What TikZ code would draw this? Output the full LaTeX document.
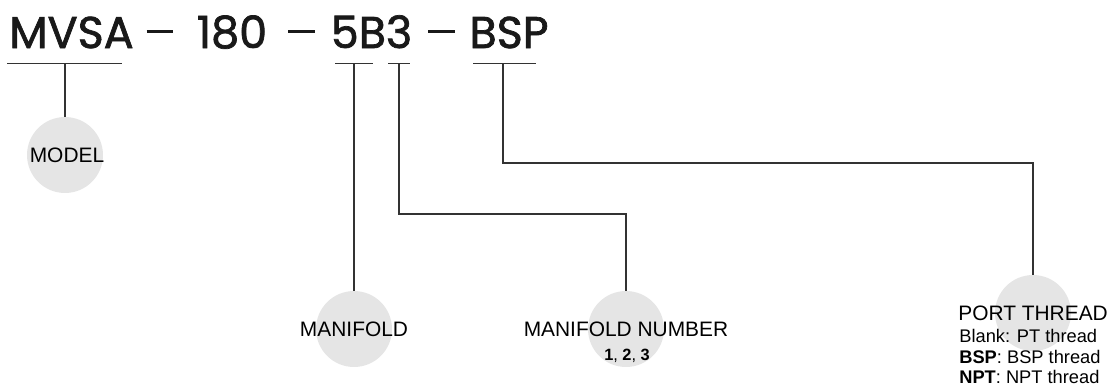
\documentclass[tikz,border=0pt]{standalone}
\usepackage{fontspec}
\setmainfont{Liberation Sans}
\newfontfamily\codefont[FakeBold=1.6]{Poppins}
\definecolor{circgray}{HTML}{E5E5E5}
\definecolor{linegray}{HTML}{333333}
\tikzset{
  badge/.style={circle,fill=circgray,minimum size=1.52cm,inner sep=0pt},
  part/.style={anchor=base,inner sep=0pt,text=black!90,font=\codefont\fontsize{25.3}{30}\selectfont},
  lbl/.style={inner sep=0pt,font=\fontsize{11.9}{14}\selectfont},
  sub/.style={inner sep=0pt,anchor=west,font=\fontsize{10.4}{12}\selectfont},
  lead/.style={draw=linegray,line width=0.75pt},
}
\newcommand{\codedash}{\rule[0.31cm]{0.54cm}{0.042cm}}
\begin{document}
\begin{tikzpicture}[x=0.02cm,y=-0.02cm]
\useasboundingbox (0,0) rectangle (1110,386);
% order code
\node[part] (mvsa) at (71.5,48) {MVSA};
\node[part] (dashA) at (160,48) {\codedash};
\node[part] (size) at (232,48) {180};
\node[part] (dashB) at (301.5,48) {\codedash};
\node[part] (mani) at (371.5,48) {5B3};
\node[part] (dashC) at (441.5,48) {\codedash};
\node[part] (port) at (509,48) {BSP};
% underlines
\draw[lead] (7,63.5) -- (122,63.5);
\draw[lead] (335,63.5) -- (373,63.5);
\draw[lead] (388,63.5) -- (410,63.5);
\draw[lead] (473,63.5) -- (536,63.5);
\coordinate (tModel) at (65,63.5);
\coordinate (tMani) at (354,63.5);
\coordinate (tNum) at (399,63.5);
\coordinate (tPort) at (503,63.5);
\coordinate (kNum) at (399,214);
\coordinate (kPort) at (503,163);
% circles
\node[badge] (model) at (65,155) {};
\node[badge] (manifold) at (354,329) {};
\node[badge] (number) at (626,329) {};
\node[badge] (thread) at (1033,313) {};
% leaders
\draw[lead] (tModel) -- (model);
\draw[lead] (tMani) -- (manifold);
\draw[lead] (tNum) -- (kNum) -| (number);
\draw[lead] (tPort) -- (kPort) -| (thread);
% labels
\node[lbl] (modelTxt) at (67,155) {MODEL};
\node[lbl] (maniTxt) at (354,329) {MANIFOLD};
\node[lbl] (numTxt) at (626,329.5) {MANIFOLD NUMBER};
\node[lbl,font=\bfseries\fontsize{9.3}{11}\selectfont] (numOpt) at (627,355.5) {1\textmd{,} 2\textmd{,} 3};
\node[lbl,anchor=west] (threadTxt) at (958,313) {PORT THREAD};
\node[sub] (optBlank) at (959,336) {Blank: PT thread};
\node[sub] (optBsp) at (959,356.5) {\textbf{BSP}: BSP thread};
\node[sub] (optNpt) at (959,376.5) {\textbf{NPT}: NPT thread};
\end{tikzpicture}
\end{document}
